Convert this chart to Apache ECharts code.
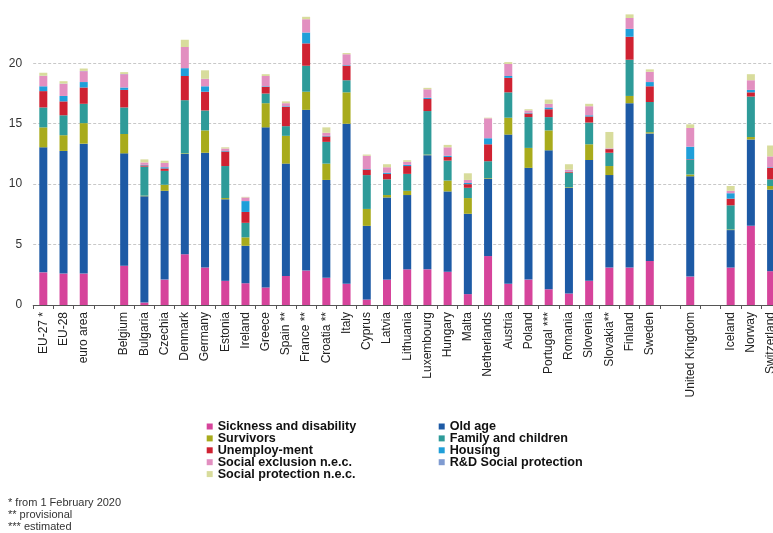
<!DOCTYPE html>
<html><head><meta charset="utf-8">
<script src="https://cdn.jsdelivr.net/npm/echarts@6/dist/echarts.min.js"></script>
<style>html,body{margin:0;padding:0;background:#fff}#c{width:773px;height:533px}</style>
</head><body><div id="c"></div>
<script>
const categories = ["EU-27 *","EU-28","euro area"," ","Belgium","Bulgaria","Czechia","Denmark","Germany","Estonia","Ireland","Greece","Spain **","France **","Croatia **","Italy","Cyprus","Latvia","Lithuania","Luxembourg","Hungary","Malta","Netherlands","Austria","Poland","Portugal ***","Romania","Slovenia","Slovakia**","Finland","Sweden","  ","United Kingdom","   ","Iceland","Norway","Switzerland"];
const sickness     = [2.7,2.6,2.6,null,3.25,0.2,2.1,4.2,3.1,2.0,1.8,1.45,2.4,2.85,2.25,1.75,0.45,2.1,2.95,2.95,2.75,0.9,4.05,1.75,2.1,1.3,0.95,2.0,3.1,3.1,3.65,null,2.35,null,3.1,6.55,2.8];
const oldAge       = [10.35,10.15,10.75,null,9.3,8.8,7.35,8.3,9.5,6.75,3.1,13.25,9.3,13.3,8.1,13.25,6.1,6.8,6.15,9.45,6.65,6.65,6.4,12.35,9.25,11.5,8.75,10.0,7.65,13.6,10.55,null,8.3,null,3.1,7.15,6.75];
const survivors    = [1.65,1.3,1.7,null,1.6,0.05,0.5,0.05,1.85,0.1,0.7,2.0,2.3,1.5,1.35,2.6,1.4,0.2,0.35,0.05,0.9,1.3,0.05,1.4,1.65,1.65,0.05,1.3,0.75,0.6,0.1,null,0.15,null,0.05,0.2,0.3];
const family       = [1.65,1.65,1.6,null,2.2,2.4,1.15,4.4,1.65,2.65,1.2,0.8,0.8,2.15,1.8,1.0,2.8,1.3,1.4,3.6,1.65,0.85,1.4,2.1,2.55,1.1,1.2,1.8,1.1,3.0,2.5,null,1.2,null,2.0,3.35,0.55];
const unemployment = [1.35,1.15,1.35,null,1.45,0.1,0.2,2.0,1.55,1.2,0.9,0.55,1.6,1.85,0.45,1.2,0.45,0.45,0.65,1.0,0.3,0.3,1.4,1.2,0.3,0.65,0.07,0.5,0.3,1.9,1.3,null,0.05,null,0.55,0.35,0.95];
const housing      = [0.4,0.45,0.45,null,0.2,0.05,0.1,0.65,0.45,0.05,0.9,0.05,0.05,0.9,0.05,0.05,0.05,0.1,0.1,0.1,0.1,0.1,0.5,0.15,0.05,0.15,0.03,0.1,0.02,0.65,0.35,null,1.05,null,0.45,0.2,0.05];
const socialExcl   = [0.85,1.0,0.9,null,1.1,0.2,0.35,1.75,0.6,0.2,0.3,0.85,0.25,1.1,0.25,0.9,1.1,0.45,0.25,0.7,0.7,0.25,1.65,1.0,0.2,0.3,0.15,0.75,0.05,0.9,0.85,null,1.55,null,0.2,0.8,0.9];
const rdSocial     = [0.02,0.02,0.02,null,0.02,0,0.01,0,0.02,0,0,0,0,0,0,0,0,0,0,0,0,0,0,0,0,0,0,0,0,0,0,null,0,null,0,0,0];
const socialNec    = [0.25,0.2,0.2,null,0.15,0.25,0.18,0.6,0.7,0.1,0.05,0.15,0.15,0.2,0.45,0.1,0.1,0.25,0.13,0.12,0.2,0.55,0.05,0.15,0.1,0.35,0.45,0.2,1.35,0.3,0.2,null,0.3,null,0.4,0.5,0.9];
const yTicks = [0,5,10,15,20];
const footnotes = ["* from 1 February 2020","** provisional","*** estimated"];

const seriesDefs = [
  ["Sickness and disability", sickness, "#d6449b"],
  ["Old age", oldAge, "#1d5aa5"],
  ["Survivors", survivors, "#a8ab1c"],
  ["Family and children", family, "#2e9b99"],
  ["Unemploy-ment", unemployment, "#cf2232"],
  ["Housing", housing, "#1f9fd9"],
  ["Social exclusion n.e.c.", socialExcl, "#e28fc0"],
  ["R&D Social protection", rdSocial, "#7f9bd1"],
  ["Social protection n.e.c.", socialNec, "#d8dc9c"]
];

const chart = echarts.init(document.getElementById('c'), null, {renderer:'canvas'});
const legendText = {fontFamily:'Liberation Sans, Arial, sans-serif', fontSize:12.6, fontWeight:'bold', color:'#111', lineHeight:12};
const legendBase = {orient:'vertical', padding:0, itemWidth:6, itemHeight:6, itemGap:-1.1, itemTextGap:4.5, icon:'rect', textStyle:legendText};
chart.setOption({
  animation:false,
  backgroundColor:'#ffffff',
  grid:{left:33.2, top:2.9, width:748, height:302.1, containLabel:false, outerBoundsMode:'none'},
  xAxis:{type:'category', data:categories,
    axisLine:{lineStyle:{color:'#555', width:1}},
    axisTick:{show:true, length:4, lineStyle:{color:'#555'}},
    axisLabel:{interval:0, rotate:90, margin:7, fontFamily:'Liberation Sans, Arial, sans-serif', fontSize:12, color:'#222'}
  },
  yAxis:{type:'value', min:0, max:25, interval:5,
    axisLine:{show:false}, axisTick:{show:false},
    axisLabel:{margin:11, fontFamily:'Liberation Sans, Arial, sans-serif', fontSize:12, color:'#333',
      formatter:v=> yTicks.includes(v) ? String(v) : ''},
    splitLine:{show:true, showMaxLine:false, lineStyle:{color:'#c8c8c8', type:[3,2], width:1}}
  },
  legend:[
    Object.assign({left:206.7, top:420,
      data:["Sickness and disability","Survivors","Unemploy-ment","Social exclusion n.e.c.","Social protection n.e.c."]}, legendBase),
    Object.assign({left:438.7, top:420,
      data:["Old age","Family and children","Housing","R&D Social protection"]}, legendBase)
  ],
  graphic: footnotes.map((t,i)=>({type:'text', left:8, top:497+i*12.2,
    style:{text:t, fontFamily:'Liberation Sans, Arial, sans-serif', fontSize:11, fill:'#333'}})),
  series: seriesDefs.map(([name,data,color])=>({
    name, type:'bar', stack:'total', data, barWidth:8,
    itemStyle:{color}, emphasis:{disabled:true}
  }))
});
</script></body></html>
